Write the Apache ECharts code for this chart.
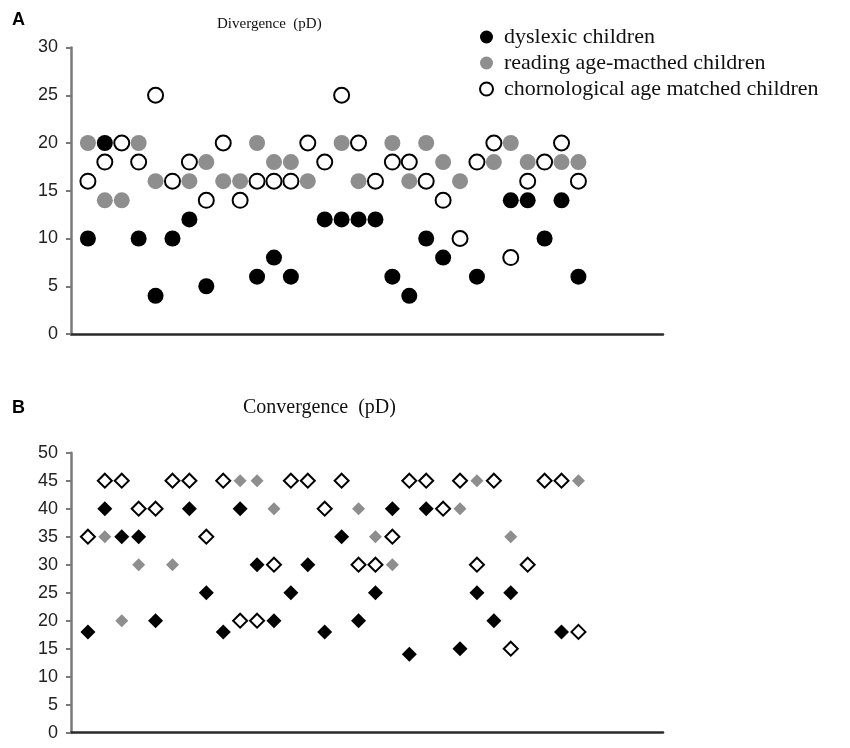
<!DOCTYPE html>
<html>
<head>
<meta charset="utf-8">
<script src="https://cdn.jsdelivr.net/npm/echarts@6/dist/echarts.min.js"></script>
<style>
  html, body { margin: 0; padding: 0; background: #fff; }
  #chart { width: 850px; height: 748px; }
</style>
</head>
<body>
<div id="chart"></div>
<script>
// one value per subject column (1..30), null = no marker in that column
const groupNames = ['dyslexic children', 'reading age-macthed children', 'chornological age matched children'];

// A: Divergence (pD)
const divDyslexic = [10, 20, null, 10, 4, 10, 12, 5, null, null, 6, 8, 6, null, 12, 12, 12, 12, 6, 4, 10, 8, null, 6, null, 14, 14, 10, 14, 6];
const divReading  = [20, 14, 14, 20, 16, null, 16, 18, 16, 16, 20, 18, 18, 16, null, 20, 16, null, 20, 16, 20, 18, 16, null, 18, 20, 18, null, 18, 18];
const divChrono   = [16, 18, 20, 18, 25, 16, 18, 14, 20, 14, 16, 16, 16, 20, 18, 25, 20, 16, 18, 18, 16, 14, 10, 18, 20, 8, 16, 18, 20, 16];

// B: Convergence (pD)
const conDyslexic = [18, 40, 35, 35, 20, null, 40, 25, 18, 40, 30, 20, 25, 30, 18, 35, 20, 25, 40, 14, 40, null, 15, 25, 20, 25, null, null, 18, null];
const conReading  = [null, 35, 20, 30, null, 30, null, null, null, 45, 45, 40, null, null, null, null, 40, 35, 30, null, null, null, 40, 45, null, 35, null, null, null, 45];
const conChrono   = [35, 45, 45, 40, 40, 45, 45, 35, 45, 20, 20, 30, 45, 45, 40, 45, 30, 30, 35, 45, 45, 40, 45, 30, 45, 15, 30, 45, 45, 18];

const divTicks = [0, 30, 5];
const conTicks = [0, 50, 5];

function toPoints(arr) {
    const out = [];
    arr.forEach(function (v, i) {
        if (v !== null) out.push([i + 1, v]);
    });
    return out;
}

const chart = echarts.init(document.getElementById('chart'));

const axisCommon = {
    axisLine: { show: true, lineStyle: { color: '#7a7a7a', width: 2.5 } },
    axisTick: { show: true, inside: false, length: 5, lineStyle: { color: '#7a7a7a', width: 2 } },
    axisLabel: { color: '#222', fontSize: 18, fontFamily: 'Liberation Sans, Arial, sans-serif', margin: 13 },
    splitLine: { show: false }
};

function xAxis(gridIndex) {
    return {
        type: 'value', gridIndex: gridIndex, min: 0, max: 35,
        axisLine: { show: true, onZero: false, lineStyle: { color: '#2a2a2a', width: 2.5 } },
        axisTick: { show: false }, axisLabel: { show: false }, splitLine: { show: false }
    };
}

function yAxis(gridIndex, t) {
    return Object.assign({ type: 'value', gridIndex: gridIndex, min: t[0], max: t[1], interval: t[2] }, axisCommon);
}

const blackStyle = { color: '#000', opacity: 1 };
const grayStyle = { color: '#8e8e8e', opacity: 1 };
const openStyle = { color: '#fff', borderColor: '#000', borderWidth: 2, opacity: 1 };

chart.setOption({
    animation: false,
    backgroundColor: '#fff',
    title: [
        { text: 'A', left: 7, top: 6, textStyle: { fontSize: 18, fontWeight: 'bold', fontFamily: 'Liberation Sans, Arial, sans-serif', color: '#000' } },
        { text: 'Divergence  (pD)', left: 212, top: 12, textStyle: { fontSize: 15, fontWeight: 'normal', fontFamily: 'Liberation Serif, Times New Roman, serif', color: '#111' } },
        { text: 'B', left: 7, top: 394, textStyle: { fontSize: 18, fontWeight: 'bold', fontFamily: 'Liberation Sans, Arial, sans-serif', color: '#000' } },
        { text: 'Convergence  (pD)', left: 238, top: 393, textStyle: { fontSize: 20, fontWeight: 'normal', fontFamily: 'Liberation Serif, Times New Roman, serif', color: '#111' } }
    ],
    legend: {
        orient: 'vertical',
        left: 474,
        top: 21,
        itemGap: 4,
        itemWidth: 13,
        itemHeight: 13,
        selectedMode: false,
        textStyle: { fontSize: 22, fontFamily: 'Liberation Serif, Times New Roman, serif', color: '#111', padding: [0, 0, 0, 6] },
        data: [
            { name: groupNames[0], icon: 'circle', itemStyle: blackStyle },
            { name: groupNames[1], icon: 'circle', itemStyle: grayStyle },
            { name: groupNames[2], icon: 'circle', itemStyle: { color: '#fff', borderColor: '#000', borderWidth: 2 } }
        ]
    },
    grid: [
        { left: 71, top: 47.5, width: 592, height: 286.5 },
        { left: 71, top: 452.7, width: 592, height: 280 }
    ],
    xAxis: [xAxis(0), xAxis(1)],
    yAxis: [yAxis(0, divTicks), yAxis(1, conTicks)],
    series: [
        { name: groupNames[0], type: 'scatter', xAxisIndex: 0, yAxisIndex: 0, symbol: 'circle', symbolSize: 16, itemStyle: blackStyle, data: toPoints(divDyslexic) },
        { name: groupNames[1], type: 'scatter', xAxisIndex: 0, yAxisIndex: 0, symbol: 'circle', symbolSize: 16, itemStyle: grayStyle, data: toPoints(divReading) },
        { name: groupNames[2], type: 'scatter', xAxisIndex: 0, yAxisIndex: 0, symbol: 'circle', symbolSize: 15, itemStyle: openStyle, data: toPoints(divChrono) },
        { name: groupNames[0], type: 'scatter', xAxisIndex: 1, yAxisIndex: 1, symbol: 'diamond', symbolSize: 15, itemStyle: blackStyle, data: toPoints(conDyslexic) },
        { name: groupNames[1], type: 'scatter', xAxisIndex: 1, yAxisIndex: 1, symbol: 'diamond', symbolSize: 13, itemStyle: grayStyle, data: toPoints(conReading) },
        { name: groupNames[2], type: 'scatter', xAxisIndex: 1, yAxisIndex: 1, symbol: 'diamond', symbolSize: 14, itemStyle: openStyle, data: toPoints(conChrono) }
    ]
});
</script>
</body>
</html>
